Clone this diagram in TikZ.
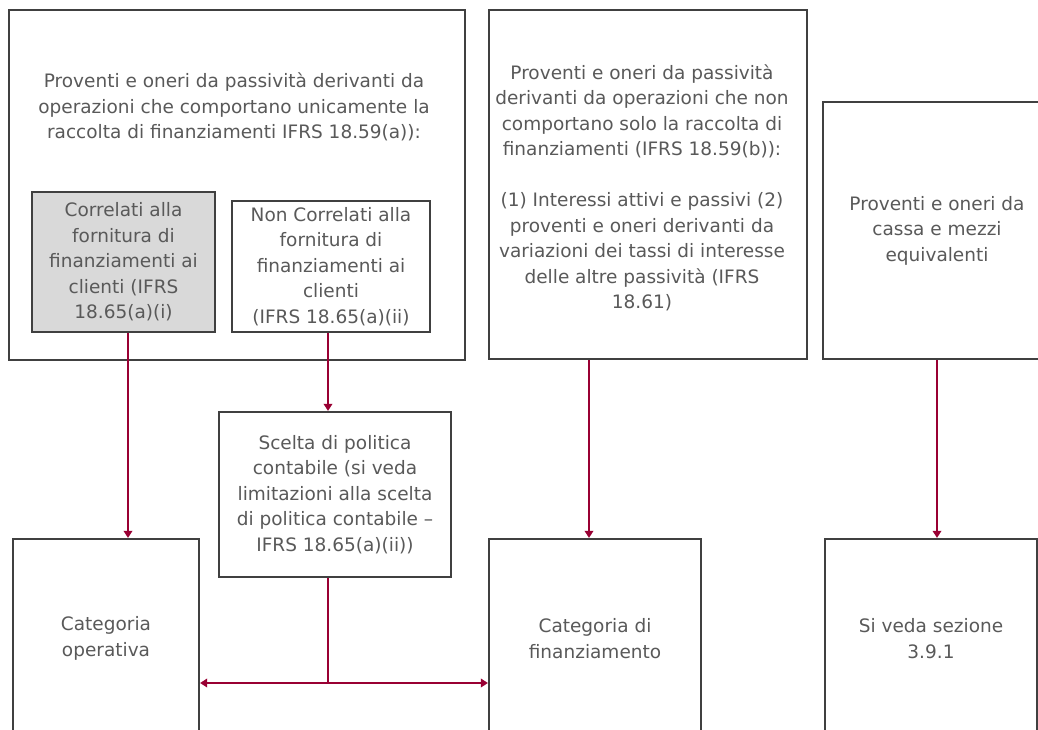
\documentclass[tikz,border=0pt]{standalone}
\usepackage{fontspec}
\setmainfont{DejaVu Sans}
\usetikzlibrary{arrows.meta}
\definecolor{txt}{HTML}{595959}
\definecolor{edge}{HTML}{404040}
\definecolor{conn}{HTML}{990033}
\definecolor{greyfill}{HTML}{D9D9D9}
\tikzset{
  box/.style={draw=edge, line width=2.2pt, rectangle, inner sep=0pt, align=center,
    text=txt, font=\fontsize{18.5}{25.5}\selectfont},
  lbl/.style={inner sep=0pt, align=center, text=txt, font=\fontsize{18.5}{25.5}\selectfont},
  conline/.style={draw=conn, line width=1.9pt},
  arr/.style={conline, -{Triangle[width=8.5pt,length=7pt]}},
}
\begin{document}
\begin{tikzpicture}[x=1pt,y=-1pt]
\useasboundingbox (0,0) rectangle (1038,730);
\clip (0,0) rectangle (1038,730);
% top left container
\node[box, minimum width=456pt, minimum height=350pt] (b1) at (237,185) {};
\node[lbl] (h1) at (234,107) {Proventi e oneri da passività derivanti da\\operazioni che comportano unicamente la\\raccolta di finanziamenti IFRS 18.59(a)):};
\node[box, fill=greyfill, minimum width=183pt, minimum height=140pt] (gr) at (123.5,262) {Correlati alla\\fornitura di\\finanziamenti ai\\clienti (IFRS\\18.65(a)(i)};
\node[box, minimum width=198pt, minimum height=131pt] (nc) at (331,266.5) {Non Correlati alla\\fornitura di\\finanziamenti ai\\clienti\\(IFRS 18.65(a)(ii)};
% top middle
\node[box, minimum width=318pt, minimum height=349pt] (b2) at (648,184.5) {};
\node[lbl] (h2) at (642,188) {Proventi e oneri da passività\\derivanti da operazioni che non\\comportano solo la raccolta di\\finanziamenti (IFRS 18.59(b)):\\[25.5pt](1) Interessi attivi e passivi (2)\\proventi e oneri derivanti da\\variazioni dei tassi di interesse\\delle altre passività (IFRS\\18.61)};
% top right
\node[box, minimum width=228pt, minimum height=257pt] (b3) at (937,230.5) {Proventi e oneri da\\cassa e mezzi\\equivalenti};
% scelta
\node[box, minimum width=232pt, minimum height=165pt] (sc) at (335,494.5) {Scelta di politica\\contabile (si veda\\limitazioni alla scelta\\di politica contabile --\\IFRS 18.65(a)(ii))};
% bottom boxes
\node[box, minimum width=186pt, minimum height=199pt] (o1) at (106,638.5) {Categoria\\operativa};
\node[box, minimum width=212pt, minimum height=199pt] (o2) at (595,638.5) {Categoria di\\finanziamento};
\node[box, minimum width=212pt, minimum height=199pt] (o3) at (931,638.5) {Si veda sezione\\3.9.1};
% connectors
\draw[arr] ([xshift=4.5pt]gr.south) -- ([xshift=4.5pt]gr.south |- o1.north);
\draw[arr] ([xshift=-3pt]nc.south) -- ([xshift=-3pt]nc.south |- sc.north);
\draw[arr] ([xshift=-59pt]b2.south) -- ([xshift=-59pt]b2.south |- o2.north);
\draw[arr] (b3.south) -- (b3.south |- o3.north);
\coordinate (j) at ([xshift=-7pt]sc.south |- 0,683);
\draw[conline] ([xshift=-7pt]sc.south) -- (j);
\draw[arr] (j) -- (j -| o1.east);
\draw[arr] (j) -- (j -| o2.west);
\end{tikzpicture}
\end{document}
